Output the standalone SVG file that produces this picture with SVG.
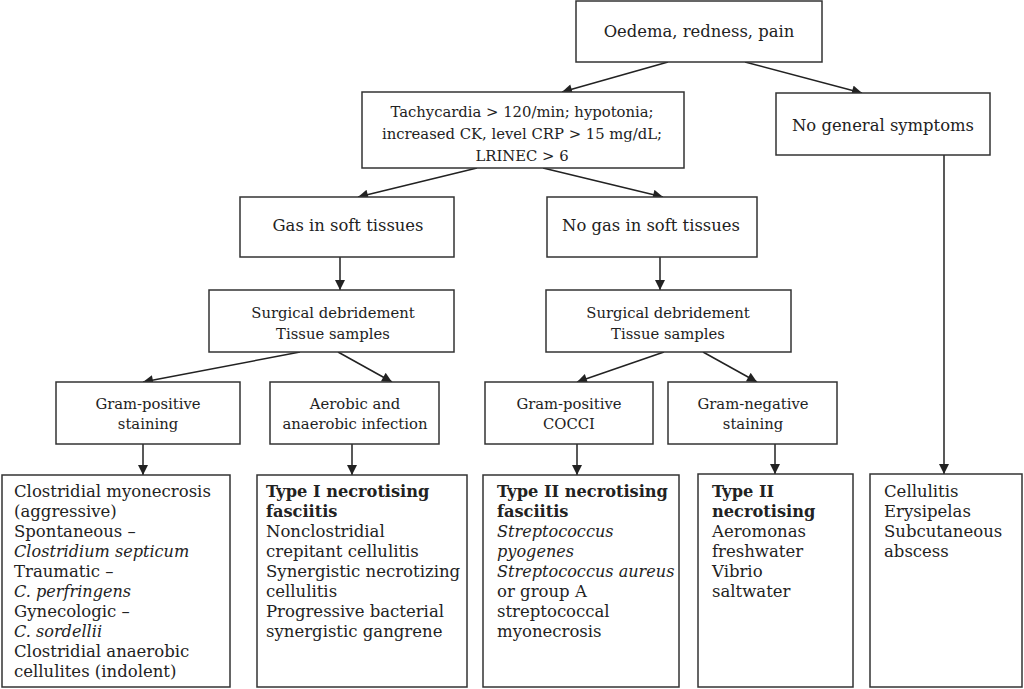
<svg xmlns="http://www.w3.org/2000/svg" width="1024" height="689" viewBox="0 0 1024 689">
<defs>
<marker id="ah" viewBox="0 0 10 10" refX="10" refY="5" markerWidth="11" markerHeight="10" markerUnits="userSpaceOnUse" orient="auto">
<path d="M0,0 L10,5 L0,10 Z" fill="#222"/>
</marker>
<style>
rect{fill:#fff;stroke:#333;stroke-width:1.5}
text{font-family:"DejaVu Serif","Liberation Serif",serif;fill:#222}
.c{text-anchor:middle}
.m{font-size:16.4px}
.s{font-size:14.8px}
.b{font-size:16.5px}
.bd{font-weight:bold;font-size:16.2px}
.it{font-style:italic;font-size:16.1px}
#edges line{stroke:#222;stroke-width:1.5;marker-end:url(#ah)}
</style>
</defs>
<rect x="0" y="0" width="1024" height="689" style="fill:#fff;stroke:none"/>
<g id="edges">
<line x1="668" y1="62" x2="562" y2="92"/>
<line x1="745" y1="62" x2="862" y2="93"/>
<line x1="477" y1="168" x2="358" y2="197"/>
<line x1="543" y1="168" x2="663" y2="197"/>
<line x1="340" y1="257" x2="340" y2="290"/>
<line x1="660" y1="257" x2="660" y2="290"/>
<line x1="300" y1="352" x2="143" y2="382"/>
<line x1="338" y1="352" x2="392" y2="382"/>
<line x1="664" y1="352" x2="577" y2="382"/>
<line x1="703" y1="352" x2="757" y2="382"/>
<line x1="143" y1="444" x2="143" y2="475"/>
<line x1="352" y1="444" x2="352" y2="475"/>
<line x1="577" y1="444" x2="577" y2="475"/>
<line x1="775" y1="444" x2="775" y2="474"/>
<line x1="944" y1="155" x2="944" y2="474"/>
</g>
<g id="n1"><rect x="576" y="1" width="246" height="61"/><text class="c m" x="699" y="37">Oedema, redness, pain</text></g>
<g id="n2"><rect x="362" y="92" width="322" height="76"/>
<text class="c s" x="522" y="117">Tachycardia &gt; 120/min; hypotonia;</text>
<text class="c s" x="522" y="139">increased CK, level CRP &gt; 15 mg/dL;</text>
<text class="c s" x="522" y="161">LRINEC &gt; 6</text></g>
<g id="n3"><rect x="776" y="93" width="214" height="62"/><text class="c m" x="883" y="131">No general symptoms</text></g>
<g id="n4"><rect x="240" y="197" width="214" height="60"/><text class="c m" x="348" y="231">Gas in soft tissues</text></g>
<g id="n5"><rect x="547" y="197" width="210" height="60"/><text class="c m" x="651" y="231">No gas in soft tissues</text></g>
<g id="n6"><rect x="209" y="290" width="245" height="62"/>
<text class="c s" x="333" y="318">Surgical debridement</text>
<text class="c s" x="333" y="339">Tissue samples</text></g>
<g id="n7"><rect x="546" y="290" width="245" height="62"/>
<text class="c s" x="668" y="318">Surgical debridement</text>
<text class="c s" x="668" y="339">Tissue samples</text></g>
<g id="n8"><rect x="56" y="382" width="184" height="62"/>
<text class="c s" x="148" y="409">Gram-positive</text>
<text class="c s" x="148" y="429">staining</text></g>
<g id="n9"><rect x="270" y="382" width="169" height="62"/>
<text class="c s" x="355" y="409">Aerobic and</text>
<text class="c s" x="355" y="429">anaerobic infection</text></g>
<g id="n10"><rect x="485" y="382" width="168" height="62"/>
<text class="c s" x="569" y="409">Gram-positive</text>
<text class="c s" x="569" y="429">COCCI</text></g>
<g id="n11"><rect x="668" y="382" width="169" height="62"/>
<text class="c s" x="753" y="409">Gram-negative</text>
<text class="c s" x="753" y="429">staining</text></g>
<g id="n12"><rect x="2" y="475" width="228" height="212"/>
<text class="b" x="14" y="497">Clostridial myonecrosis</text>
<text class="b" x="14" y="517">(aggressive)</text>
<text class="b" x="14" y="537">Spontaneous –</text>
<text class="b it" x="14" y="557">Clostridium septicum</text>
<text class="b" x="14" y="577">Traumatic –</text>
<text class="b it" x="14" y="597">C. perfringens</text>
<text class="b" x="14" y="617">Gynecologic –</text>
<text class="b it" x="14" y="637">C. sordellii</text>
<text class="b" x="14" y="657">Clostridial anaerobic</text>
<text class="b" x="14" y="677">cellulites (indolent)</text></g>
<g id="n13"><rect x="257" y="475" width="210" height="212"/>
<text class="b bd" x="266" y="497">Type I necrotising</text>
<text class="b bd" x="266" y="517">fasciitis</text>
<text class="b" x="266" y="537">Nonclostridial</text>
<text class="b" x="266" y="557">crepitant cellulitis</text>
<text class="b" x="266" y="577">Synergistic necrotizing</text>
<text class="b" x="266" y="597">cellulitis</text>
<text class="b" x="266" y="617">Progressive bacterial</text>
<text class="b" x="266" y="637">synergistic gangrene</text></g>
<g id="n14"><rect x="483" y="475" width="196" height="212"/>
<text class="b bd" x="497" y="497">Type II necrotising</text>
<text class="b bd" x="497" y="517">fasciitis</text>
<text class="b it" x="497" y="537">Streptococcus</text>
<text class="b it" x="497" y="557">pyogenes</text>
<text class="b it" x="497" y="577">Streptococcus aureus</text>
<text class="b" x="497" y="597">or group A</text>
<text class="b" x="497" y="617">streptococcal</text>
<text class="b" x="497" y="637">myonecrosis</text></g>
<g id="n15"><rect x="698" y="474" width="155" height="213"/>
<text class="b bd" x="712" y="497">Type II</text>
<text class="b bd" x="712" y="517">necrotising</text>
<text class="b" x="712" y="537">Aeromonas</text>
<text class="b" x="712" y="557">freshwater</text>
<text class="b" x="712" y="577">Vibrio</text>
<text class="b" x="712" y="597">saltwater</text></g>
<g id="n16"><rect x="870" y="474" width="152" height="213"/>
<text class="b" x="884" y="497">Cellulitis</text>
<text class="b" x="884" y="517">Erysipelas</text>
<text class="b" x="884" y="537">Subcutaneous</text>
<text class="b" x="884" y="557">abscess</text></g>
</svg>
